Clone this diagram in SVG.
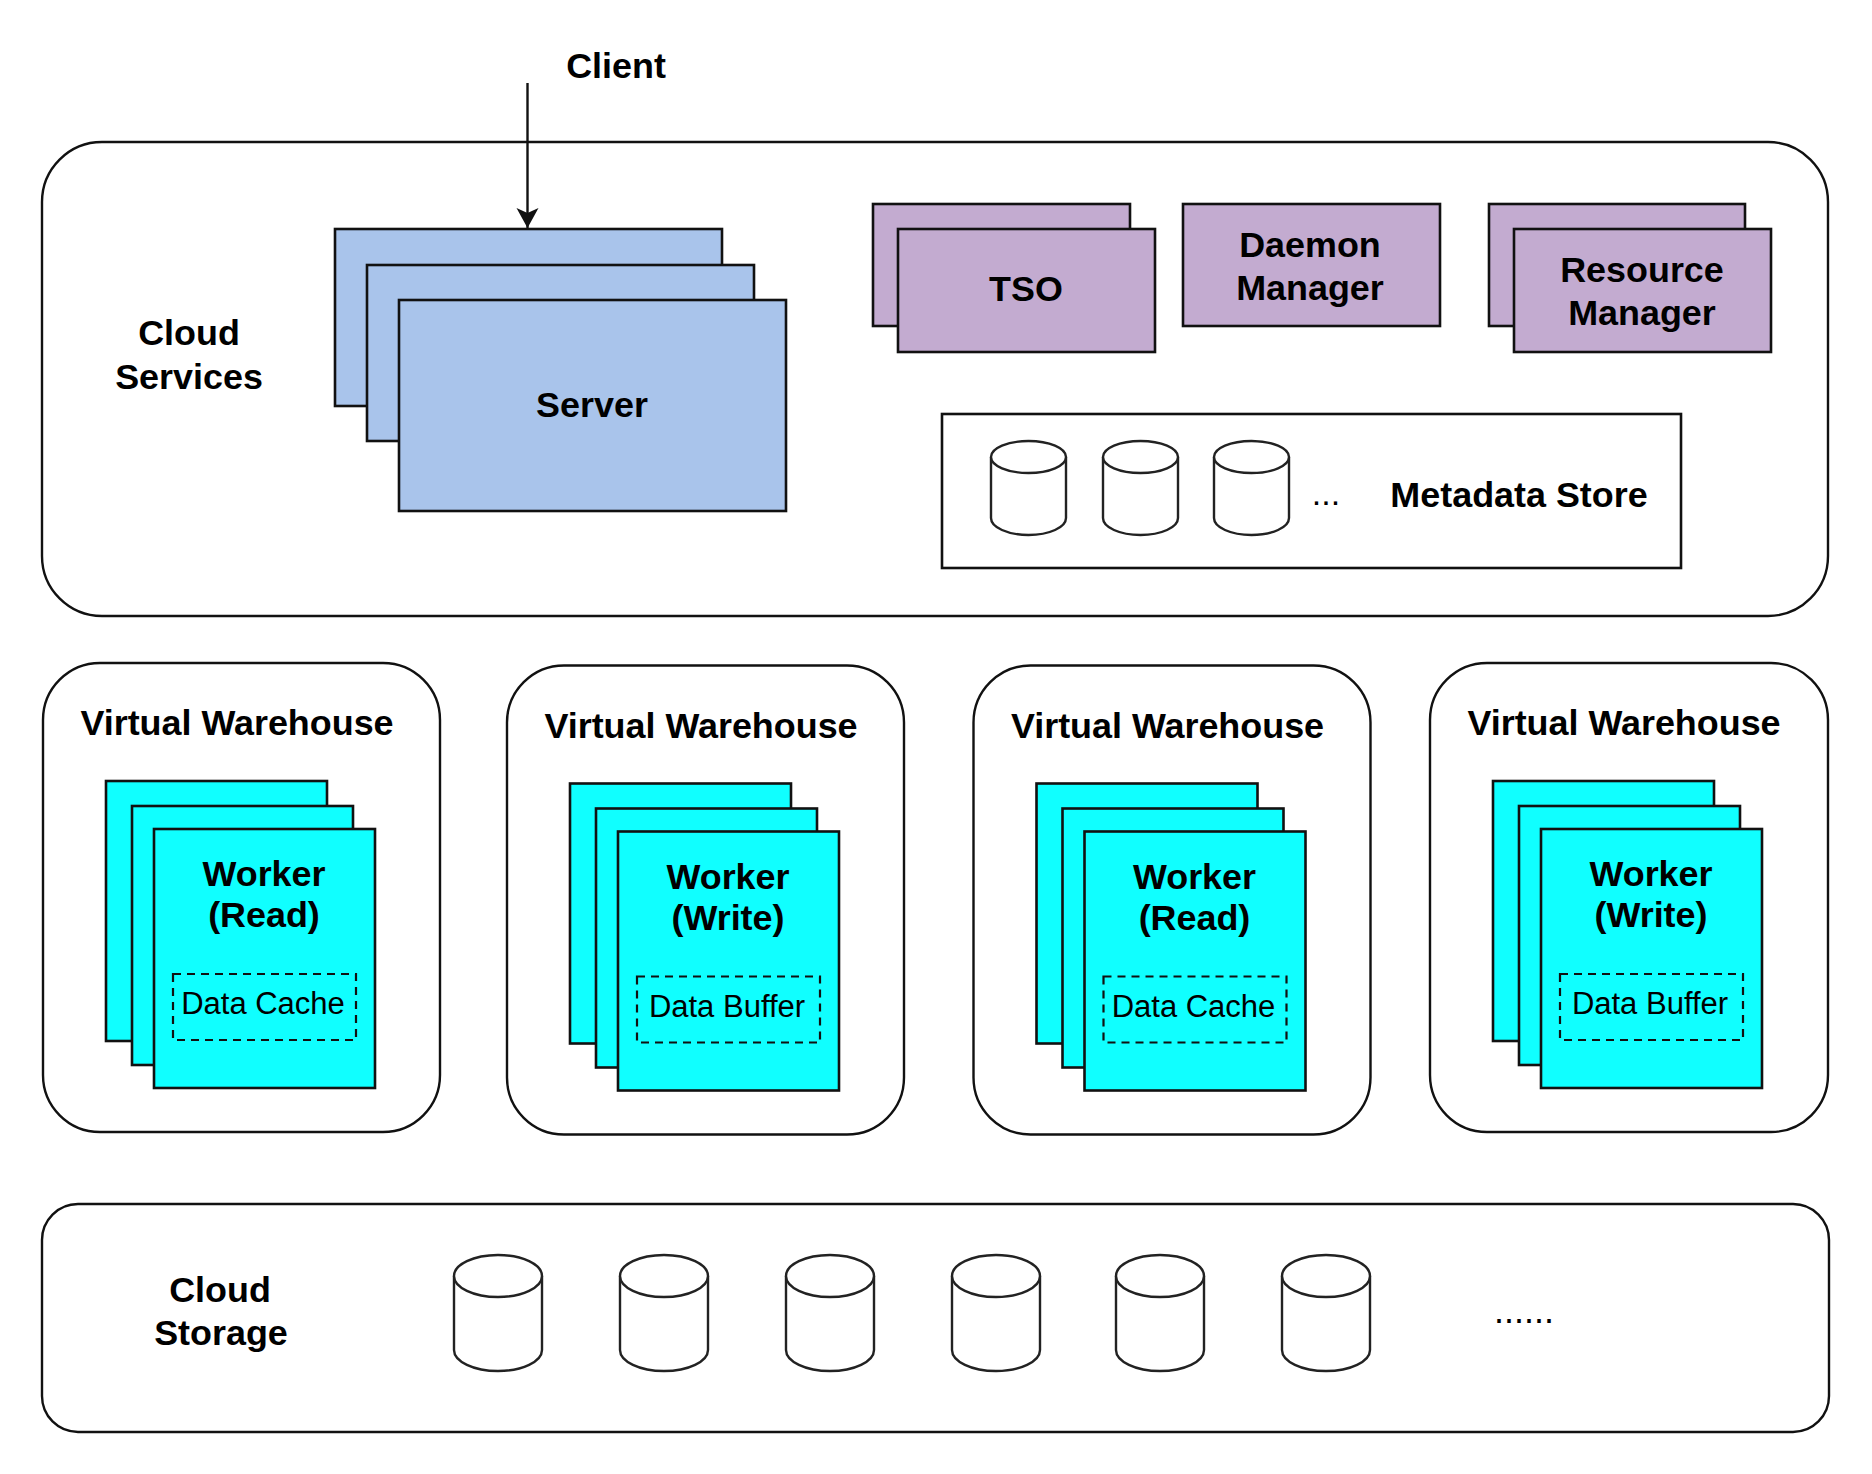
<svg xmlns="http://www.w3.org/2000/svg" width="1872" height="1474" viewBox="0 0 1872 1474">
<style>
text{font-family:"Liberation Sans",Arial,sans-serif;fill:#000;text-anchor:middle}
.b{font-size:35.9px;font-weight:700}
.r{font-size:31px}
.c{fill:#fff;stroke:#111;stroke-width:2.4}
.blue{fill:#a9c4eb;stroke:#111;stroke-width:2.6}
.pur{fill:#c3abd0;stroke:#111;stroke-width:2.6}
.cy{fill:#10ffff;stroke:#111;stroke-width:2.6}
.dash{fill:none;stroke:#111;stroke-width:2.2;stroke-dasharray:8 6}
.cyl{fill:#fff;stroke:#222;stroke-width:2.4}
</style>
<defs>
<marker id="arr" markerUnits="userSpaceOnUse" markerWidth="22" markerHeight="24" refX="20" refY="12" orient="auto">
<path d="M0,1 L20,12 L0,23 L5,12 Z" fill="#111"/>
</marker>
<g id="cylS"><path class="cyl" d="M0,16 A37.5,16 0 0 1 75,16 V77 A37.5,17 0 0 1 0,77 Z"/><path class="cyl" d="M0,16 A37.5,16 0 0 0 75,16"/></g>
<g id="cylL"><path class="cyl" d="M0,21 A44,21 0 0 1 88,21 V95 A44,21 0 0 1 0,95 Z"/><path class="cyl" d="M0,21 A44,21 0 0 0 88,21"/></g>
<g id="stack">
<rect class="cy" x="106" y="781" width="221" height="260"/>
<rect class="cy" x="132" y="806" width="221" height="259"/>
<rect class="cy" x="154" y="829" width="221" height="259"/>
<rect class="dash" x="173" y="974" width="183" height="66"/>
</g>
</defs>
<rect width="1872" height="1474" fill="#fff"/>

<g id="cloud-services">
<rect class="c" x="42" y="142" width="1786" height="474" rx="60" ry="60"/>
<text class="b"><tspan x="189" y="345">Cloud</tspan><tspan x="189" y="389">Services</tspan></text>
</g>
<g id="server">
<rect class="blue" x="335" y="229" width="387" height="177"/>
<rect class="blue" x="367" y="265" width="387" height="176"/>
<rect class="blue" x="399" y="300" width="387" height="211"/>
<text class="b" x="592" y="417">Server</text>
</g>
<g id="tso">
<rect class="pur" x="873" y="204" width="257" height="122"/>
<rect class="pur" x="898" y="229" width="257" height="123"/>
<text class="b" x="1026" y="301">TSO</text>
</g>
<g id="daemon-manager">
<rect class="pur" x="1183" y="204" width="257" height="122"/>
<text class="b"><tspan x="1310" y="257">Daemon</tspan><tspan x="1310" y="300">Manager</tspan></text>
</g>
<g id="resource-manager">
<rect class="pur" x="1489" y="204" width="256" height="122"/>
<rect class="pur" x="1514" y="229" width="257" height="123"/>
<text class="b"><tspan x="1642" y="282">Resource</tspan><tspan x="1642" y="325">Manager</tspan></text>
</g>
<g id="metadata-store">
<rect x="942" y="414" width="739" height="154" fill="#fff" stroke="#111" stroke-width="2.6"/>
<use href="#cylS" x="991" y="441"/>
<use href="#cylS" x="1103" y="441"/>
<use href="#cylS" x="1214" y="441"/>
<text class="r" x="1326" y="505" style="font-size:34px">...</text>
<text class="b" x="1519" y="507">Metadata Store</text>
</g>

<g id="vw-1">
<rect class="c" x="43" y="663" width="397" height="469" rx="57" ry="57"/>
<text class="b" x="237" y="735">Virtual Warehouse</text>
<use href="#stack"/>
<text class="b"><tspan x="264" y="886">Worker</tspan><tspan x="264" y="927">(Read)</tspan></text>
<text class="r" x="263" y="1014">Data Cache</text>
</g>
<g id="vw-2" transform="translate(464 2.5)">
<rect class="c" x="43" y="663" width="397" height="469" rx="57" ry="57"/>
<text class="b" x="237" y="735">Virtual Warehouse</text>
<use href="#stack"/>
<text class="b"><tspan x="264" y="886">Worker</tspan><tspan x="264" y="927">(Write)</tspan></text>
<text class="r" x="263" y="1014">Data Buffer</text>
</g>
<g id="vw-3" transform="translate(930.5 2.5)">
<rect class="c" x="43" y="663" width="397" height="469" rx="57" ry="57"/>
<text class="b" x="237" y="735">Virtual Warehouse</text>
<use href="#stack"/>
<text class="b"><tspan x="264" y="886">Worker</tspan><tspan x="264" y="927">(Read)</tspan></text>
<text class="r" x="263" y="1014">Data Cache</text>
</g>
<g id="vw-4" transform="translate(1387 0)">
<rect class="c" x="43" y="663" width="398" height="469" rx="57" ry="57"/>
<text class="b" x="237" y="735">Virtual Warehouse</text>
<use href="#stack"/>
<text class="b"><tspan x="264" y="886">Worker</tspan><tspan x="264" y="927">(Write)</tspan></text>
<text class="r" x="263" y="1014">Data Buffer</text>
</g>

<g id="cloud-storage">
<rect class="c" x="42" y="1204" width="1787" height="228" rx="36" ry="36"/>
<text class="b"><tspan x="220" y="1302">Cloud</tspan><tspan x="221" y="1345">Storage</tspan></text>
<use href="#cylL" x="454" y="1255"/>
<use href="#cylL" x="620" y="1255"/>
<use href="#cylL" x="786" y="1255"/>
<use href="#cylL" x="952" y="1255"/>
<use href="#cylL" x="1116" y="1255"/>
<use href="#cylL" x="1282" y="1255"/>
<text class="r" x="1524" y="1323" style="font-size:36px">......</text>
</g>

<g id="client"><text class="b" x="616" y="78">Client</text></g>

<g id="connectors">
<line x1="527.5" y1="83" x2="527.5" y2="228" stroke="#111" stroke-width="2.4" marker-end="url(#arr)"/>
</g>
</svg>
